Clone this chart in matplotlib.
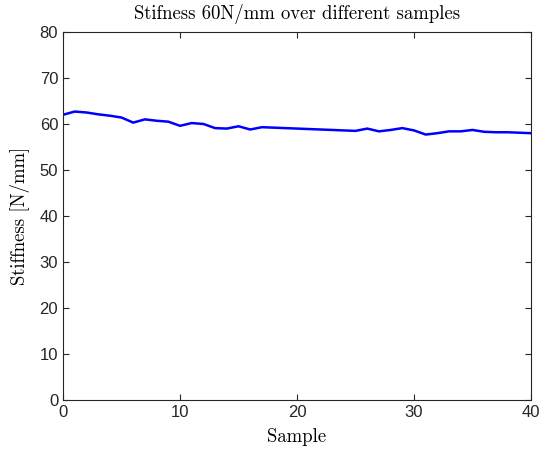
import numpy as np
import matplotlib
matplotlib.use('Agg')
import matplotlib.pyplot as plt

# Stiffness readings per sample
samples = np.arange(0, 41)
stiffness = [62.0, 62.7, 62.5, 62.1, 61.8, 61.4, 60.3, 61.0, 60.7, 60.5,
             59.6, 60.2, 60.0, 59.1, 59.0, 59.5, 58.8, 59.3, 59.2, 59.1,
             59.0, 58.9, 58.8, 58.7, 58.6, 58.5, 59.0, 58.4, 58.7, 59.1,
             58.6, 57.7, 58.0, 58.4, 58.4, 58.7, 58.3, 58.2, 58.2, 58.1,
             58.0]

x_ticks = [0, 10, 20, 30, 40]
y_ticks = [0, 10, 20, 30, 40, 50, 60, 70, 80]

plt.rcParams['font.family'] = ['Liberation Sans', 'DejaVu Sans']

fig = plt.figure(figsize=(5.48, 4.5), dpi=100)
ax = fig.add_axes([0.115, 0.111, 0.854, 0.818])

ax.plot(samples, stiffness, color='#0000ff', linewidth=1.8)

ax.set_xlim(0, 40)
ax.set_ylim(0, 80)
ax.set_xticks(x_ticks)
ax.set_yticks(y_ticks)
ax.tick_params(direction='in', length=4, width=0.8, labelsize=12,
               colors='#262626', top=True, right=True)
for s in ax.spines.values():
    s.set_color('#262626')
    s.set_linewidth(0.8)

serif = {'family': 'cmr10', 'size': 13.5}
ax.set_title('Stifness 60N/mm over different samples', fontdict=serif, pad=9)
ax.set_xlabel('Sample', fontdict=serif, labelpad=6)
ax.set_ylabel('Stiffness [N/mm]', fontdict=serif, labelpad=7)

fig.savefig('out.png', dpi=100)
